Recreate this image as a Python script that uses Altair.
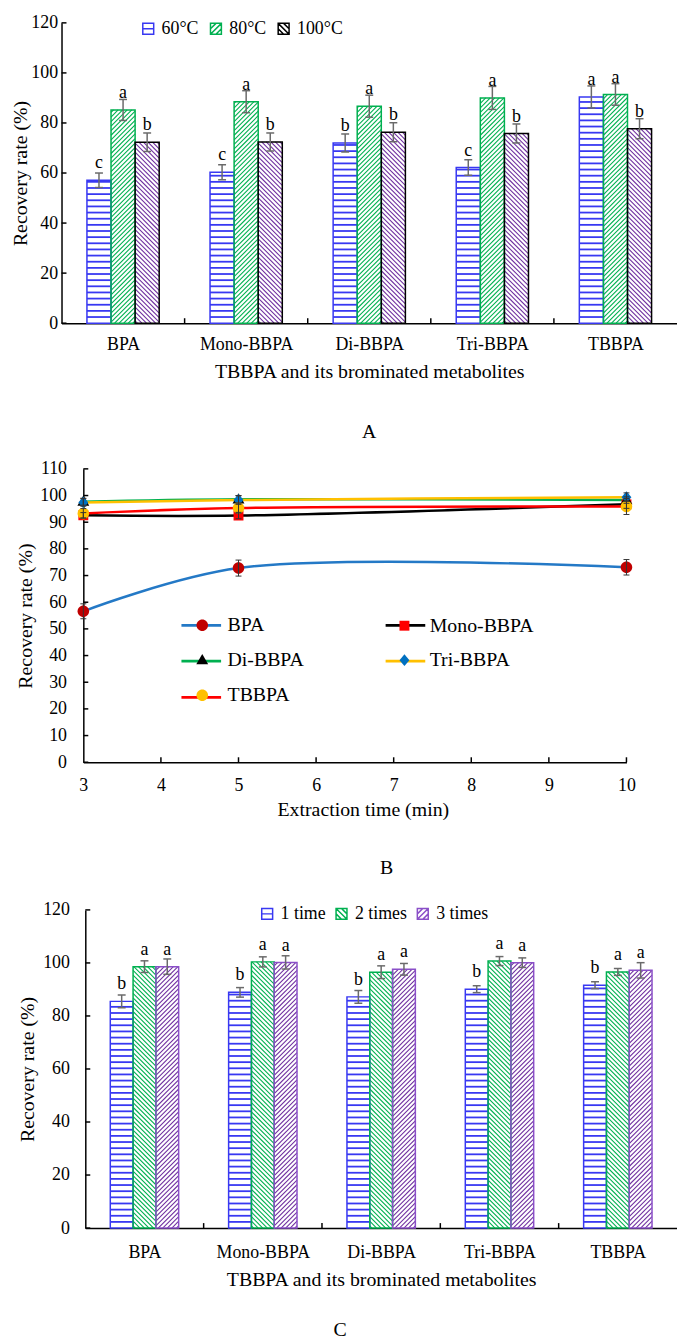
import numpy as np
import pandas as pd
import altair as alt

FONT = "Liberation Serif"

# ---------------- data ----------------
compounds = ["BPA", "Mono-BBPA", "Di-BBPA", "Tri-BBPA", "TBBPA"]

# Panel A: extraction temperature
temp_series = ["60°C", "80°C", "100°C"]
a_60 = [57.1, 60.3, 72.0, 62.2, 90.4]
a_80 = [85.2, 88.5, 86.7, 90.0, 91.4]
a_100 = [72.3, 72.4, 76.3, 75.8, 77.7]
a_60_err = [2.9, 3.0, 3.6, 3.1, 4.4]
a_80_err = [4.2, 4.4, 4.4, 4.6, 4.3]
a_100_err = [3.7, 3.6, 3.8, 3.8, 4.0]
a_60_sig = ["c", "c", "b", "c", "a"]
a_80_sig = ["a", "a", "a", "a", "a"]
a_100_sig = ["b", "b", "b", "b", "b"]

# Panel B: extraction time
b_time = [3, 5, 10]
b_bpa = [56.6, 72.8, 73.1]
b_mono = [92.6, 92.5, 96.7]
b_di = [97.7, 98.6, 98.3]
b_tri = [97.4, 98.3, 99.4]
b_tbbpa = [93.3, 95.3, 95.9]
b_bpa_err = [2.8, 3.0, 2.9]
b_mono_err = [1.0, 1.2, 1.5]
b_di_err = [1.3, 1.4, 1.2]
b_tri_err = [1.4, 1.6, 1.6]
b_tbbpa_err = [1.8, 1.9, 3.0]

# Panel C: extraction cycles
cycle_series = ["1 time", "2 times", "3 times"]
c_1 = [85.5, 88.9, 87.2, 90.1, 91.6]
c_2 = [98.6, 100.4, 96.5, 100.7, 96.6]
c_3 = [98.6, 100.2, 97.6, 100.1, 97.2]
c_1_err = [2.4, 1.8, 2.4, 1.3, 1.3]
c_2_err = [2.2, 1.9, 2.4, 1.7, 1.3]
c_3_err = [2.9, 2.5, 2.2, 1.8, 2.9]
c_1_sig = ["b", "b", "b", "b", "b"]
c_2_sig = ["a", "a", "a", "a", "a"]
c_3_sig = ["a", "a", "a", "a", "a"]

# ---------------- styles ----------------
BLUE = "#3838F2"
GREEN = "#00B050"
PURPLE = "#7030A0"
PURPLE_EDGE = "#8A4FC8"
GREY = "#6A6A6A"

SQ = "M-1,-1H1V1H-1Z"
PATH_H = SQ + "M-1,0H1"
PATH_F = SQ + "M-1,0L0,-1M-1,1L1,-1M0,1L1,0"
PATH_B = SQ + "M-1,0L0,1M-1,-1L1,1M0,-1L1,0"

# marker paths for panel B (symbol size 1600 -> unit = 20 px)
P_CIRCLE = "M0.29,0A0.29,0.29 0 1,1 -0.29,0A0.29,0.29 0 1,1 0.29,0Z"
P_SQUARE = "M-0.25,-0.25H0.25V0.25H-0.25Z"
P_TRI = "M0,-0.31L0.3,0.21L-0.3,0.21Z"
P_DIAM = "M0,-0.3L0.25,0L0,0.3L-0.25,0Z"

PLOT_W = 621


def axis(**kw):
    base = dict(grid=False, ticks=False, tickSize=0, domainColor="black", domainWidth=1.5,
                labelFont=FONT, labelFontSize=18, labelColor="black", labelFlush=False,
                labelOverlap=False, titleFont=FONT, titleFontSize=20,
                titleFontWeight="normal", titleColor="black")
    base.update(kw)
    return alt.Axis(**base)


def hatch(xl, bw, v, ppx, ppy, kind, step):
    W = bw * ppx
    H = v * ppy
    out = []
    if kind == "h":
        k = 1
        while k * step < H - 1.0:
            y = k * step / ppy
            out.append((xl, xl + bw, y, y))
            k += 1
    elif kind == "f":
        c = -W + step / 2
        while c < H:
            lo = max(0.0, -c)
            hi = min(W, H - c)
            if hi - lo > 0.5:
                out.append((xl + lo / ppx, xl + hi / ppx, (lo + c) / ppy, (hi + c) / ppy))
            c += step
    else:
        c = step / 2
        while c < H + W:
            lo = max(0.0, c - H)
            hi = min(W, c)
            if hi - lo > 0.5:
                out.append((xl + lo / ppx, xl + hi / ppx, (c - lo) / ppy, (c - hi) / ppy))
            c += step
    return out


def bar_panel(series, vals, errs, sigs, kinds, hatch_cols, edge_cols, leg_paths,
              rng, height, bar_px, ymax, ystep, y_kw, x_kw, legend_kw, title):
    r0, r1 = rng
    n = len(compounds)
    ppx = (r1 - r0) / n
    ppy = height / ymax
    bw = bar_px / ppx
    bars, hh, hd, caps = [], [], [], []
    for j, s in enumerate(series):
        for i, comp in enumerate(compounds):
            v = vals[j][i]
            e = errs[j][i]
            c = i + (j - 1) * bw
            xl = c - bw / 2
            bars.append(dict(x=xl, x2=xl + bw, y=v, y2=0.0, cx=c, half=v / 2,
                             lo=v - e, hi=v + e, sig=sigs[j][i], series=s))
            step = 6.2 if kinds[j] == "h" else 4.6
            target = hh if kinds[j] == "h" else hd
            for (a, b, cc, d) in hatch(xl, bw, v, ppx, ppy, kinds[j], step):
                target.append(dict(x=round(a, 4), x2=round(b, 4), y=round(cc, 3),
                                   y2=round(d, 3), col=hatch_cols[j]))
            caps += [dict(cx=c, yv=v - e), dict(cx=c, yv=v + e)]
    ticks = [dict(x=k + 0.5, x2=k + 0.5, y=0.0, y2=5 / ppy) for k in range(n - 1)]
    ticks += [dict(x=-0.5, x2=-0.5 + 5 / ppx, y=float(t), y2=float(t))
              for t in range(0, ymax + 1, ystep)]

    bars_df = pd.DataFrame(bars)
    xs = alt.Scale(domain=[-0.5, n - 0.5], range=[r0, r1], nice=False, zero=False)
    ys = alt.Scale(domain=[0, ymax], nice=False, zero=False)
    label_expr = "[" + ",".join("'" + c + "'" for c in compounds) + "][round(datum.value)]"
    xaxis = axis(values=list(range(n)), labelExpr=label_expr,
                 title="TBBPA and its brominated metabolites", **x_kw)
    yaxis = axis(values=list(range(0, ymax + 1, ystep)), title="Recovery rate (%)", **y_kw)

    def X(f):
        return alt.X(f"{f}:Q", scale=xs, axis=xaxis)

    def Y(f):
        return alt.Y(f"{f}:Q", scale=ys, axis=yaxis)

    leg = alt.Legend(orient="none", title=None, direction="horizontal", columns=3,
                     symbolSize=121, symbolStrokeWidth=1.5, labelFont=FONT, labelFontSize=18,
                     labelColor="black", labelOffset=4.5, padding=0, **legend_kw)
    stroke = alt.Stroke("series:N", scale=alt.Scale(domain=series, range=edge_cols), legend=leg)
    shape = alt.Shape("series:N", scale=alt.Scale(domain=series, range=leg_paths), legend=leg)

    legend_pts = alt.Chart(bars_df).mark_point(filled=False, opacity=1, size=121, strokeWidth=1.5).encode(
        x=X("cx"), y=Y("half"), stroke=stroke, shape=shape)
    white = alt.Chart(bars_df).mark_bar(fill="white", strokeWidth=0).encode(
        x=X("x"), x2="x2", y=Y("y"), y2="y2")
    lay_h = alt.Chart(pd.DataFrame(hh)).mark_rule(strokeWidth=1.8).encode(
        x=X("x"), x2="x2", y=Y("y"), y2="y2", color=alt.Color("col:N", scale=None))
    lay_d = alt.Chart(pd.DataFrame(hd)).mark_rule(strokeWidth=1.1).encode(
        x=X("x"), x2="x2", y=Y("y"), y2="y2", color=alt.Color("col:N", scale=None))
    outline = alt.Chart(bars_df).mark_bar(fillOpacity=0, strokeWidth=1.5).encode(
        x=X("x"), x2="x2", y=Y("y"), y2="y2", stroke=stroke)
    tick_lay = alt.Chart(pd.DataFrame(ticks)).mark_rule(color="black", strokeWidth=1.5).encode(
        x=X("x"), x2="x2", y=Y("y"), y2="y2")
    err = alt.Chart(bars_df).mark_rule(color=GREY, strokeWidth=1.5).encode(
        x=X("cx"), y=Y("lo"), y2="hi")
    cap = alt.Chart(pd.DataFrame(caps)).mark_tick(orient="horizontal", size=8, thickness=1.5,
                                                   color=GREY, opacity=1).encode(
        x=X("cx"), y=Y("yv"))
    letters = alt.Chart(bars_df).mark_text(font=FONT, fontSize=18, color="black", dy=-17,
                                           baseline="middle").encode(
        x=X("cx"), y=Y("y"), text="sig:N")
    return alt.layer(legend_pts, white, lay_h, lay_d, outline, tick_lay, err, cap, letters).properties(
        width=PLOT_W, height=height, title=title)


def letter_title(txt, offset, dx):
    return alt.TitleParams(txt, orient="bottom", anchor="middle", frame="group", font=FONT,
                           fontSize=20, fontWeight="normal", color="black", offset=offset, dx=dx)


# ---------------- panel A ----------------
panel_a = bar_panel(
    temp_series, [a_60, a_80, a_100], [a_60_err, a_80_err, a_100_err],
    [a_60_sig, a_80_sig, a_100_sig], ["h", "f", "b"], [BLUE, GREEN, PURPLE],
    [BLUE, GREEN, "black"], [PATH_H, PATH_F, PATH_B],
    rng=[0, PLOT_W], height=303, bar_px=24.3, ymax=120, ystep=20,
    y_kw=dict(labelPadding=4, titlePadding=0),
    x_kw=dict(labelPadding=13, titlePadding=8),
    legend_kw=dict(legendX=78.5, legendY=-3, columnPadding=8.3),
    title=letter_title("A", 41, 0))

# ---------------- panel B ----------------
b_names = compounds
b_vals = [b_bpa, b_mono, b_di, b_tri, b_tbbpa]
b_errs = [b_bpa_err, b_mono_err, b_di_err, b_tri_err, b_tbbpa_err]
line_cols = ["#2479C6", "#000000", "#00B050", "#FFC000", "#FF0000"]
mark_cols = ["#C00000", "#FF0000", "#000000", "#0070C0", "#FFC000"]
mark_paths = [P_CIRCLE, P_SQUARE, P_TRI, P_DIAM, P_CIRCLE]
line_keys = [nm + " line" for nm in b_names]

rows, caps_b = [], []
for name, lk, vs, es in zip(b_names, line_keys, b_vals, b_errs):
    for t, v, e in zip(b_time, vs, es):
        rows.append(dict(t=t, v=v, lo=v - e, hi=v + e, lseries=lk, series=name))
        caps_b += [dict(t=t, yv=v - e), dict(t=t, yv=v + e)]
b_df = pd.DataFrame(rows)

B_RANGE = [22, 570]
B_H = 296
ppx_b = (B_RANGE[1] - B_RANGE[0]) / 7.0
ppy_b = B_H / 110.0
ticks_b = [dict(x=float(t), x2=float(t), y=0.0, y2=5 / ppy_b) for t in range(4, 11)]
ticks_b += [dict(x=3.0, x2=3 + 5 / ppx_b, y=float(t), y2=float(t)) for t in range(0, 111, 10)]

xs_b = alt.Scale(domain=[3, 10], range=B_RANGE, nice=False, zero=False)
ys_b = alt.Scale(domain=[0, 110], nice=False, zero=False)
xaxis_b = axis(values=list(range(3, 11)), title="Extraction time (min)", labelPadding=15,
               titlePadding=5, titleX=304)
yaxis_b = axis(values=list(range(0, 111, 10)), title="Recovery rate (%)", labelPadding=17,
               titlePadding=4, offset=-22)


def XB(f):
    return alt.X(f"{f}:Q", scale=xs_b, axis=xaxis_b)


def YB(f):
    return alt.Y(f"{f}:Q", scale=ys_b, axis=yaxis_b)


leg_lines = alt.Legend(orient="none", title=None, columns=2, direction="horizontal",
                       legendX=119.5, legendY=136,
                       symbolType="stroke", symbolSize=1600, symbolStrokeWidth=2.8,
                       labelExpr="''", labelOffset=0, columnPadding=153, rowPadding=8.5, padding=0)
leg_marks = alt.Legend(orient="none", title=None, columns=2, direction="horizontal",
                       legendX=120.5, legendY=136,
                       symbolSize=1600, symbolStrokeWidth=2.5, labelFont=FONT, labelFontSize=20,
                       labelColor="black", labelOffset=4, columnPadding=79, rowPadding=2.5,
                       padding=0)

b_lines = alt.Chart(b_df).mark_line(interpolate="catmull-rom", strokeWidth=2.5).encode(
    x=XB("t"), y=YB("v"),
    color=alt.Color("lseries:N", scale=alt.Scale(domain=line_keys, range=line_cols), legend=leg_lines))
b_pts = alt.Chart(b_df).mark_point(filled=True, size=1600, opacity=1).encode(
    x=XB("t"), y=YB("v"),
    fill=alt.Fill("series:N", scale=alt.Scale(domain=b_names, range=mark_cols), legend=leg_marks),
    shape=alt.Shape("series:N", scale=alt.Scale(domain=b_names, range=mark_paths), legend=leg_marks))
b_err = alt.Chart(b_df).mark_rule(color="#333333", strokeWidth=1).encode(
    x=XB("t"), y=YB("lo"), y2="hi")
b_cap = alt.Chart(pd.DataFrame(caps_b)).mark_tick(orient="horizontal", size=6, thickness=1,
                                                  color="#333333", opacity=1).encode(
    x=XB("t"), y=YB("yv"))
b_ticks = alt.Chart(pd.DataFrame(ticks_b)).mark_rule(color="black", strokeWidth=1.5).encode(
    x=XB("x"), x2="x2", y=YB("y"), y2="y2")

panel_b = alt.layer(b_lines, b_pts, b_err, b_cap, b_ticks).properties(
    width=PLOT_W, height=B_H, title=letter_title("B", 39, 17.5))

# ---------------- panel C ----------------
panel_c = bar_panel(
    cycle_series, [c_1, c_2, c_3], [c_1_err, c_2_err, c_3_err],
    [c_1_sig, c_2_sig, c_3_sig], ["h", "b", "f"], [BLUE, GREEN, PURPLE],
    [BLUE, GREEN, PURPLE_EDGE], [PATH_H, PATH_B, PATH_F],
    rng=[24, PLOT_W], height=321, bar_px=23, ymax=120, ystep=20,
    y_kw=dict(labelPadding=16, titlePadding=5, offset=-24),
    x_kw=dict(labelPadding=16, titlePadding=8),
    legend_kw=dict(legendX=198.5, legendY=-5, columnPadding=7),
    title=letter_title("C", 31, -29.5))

RES = dict(x="independent", y="independent", color="independent", fill="independent",
           stroke="independent", shape="independent")
lower = alt.vconcat(panel_b, panel_c, spacing=23).resolve_scale(**RES)
chart = alt.vconcat(panel_a, lower, spacing=18).resolve_scale(**RES).properties(
    padding={"left": 3, "top": 0, "right": 0, "bottom": 0}).configure_view(strokeWidth=0)

chart.save("out.html", embed_options={"renderer": "svg", "actions": False})
